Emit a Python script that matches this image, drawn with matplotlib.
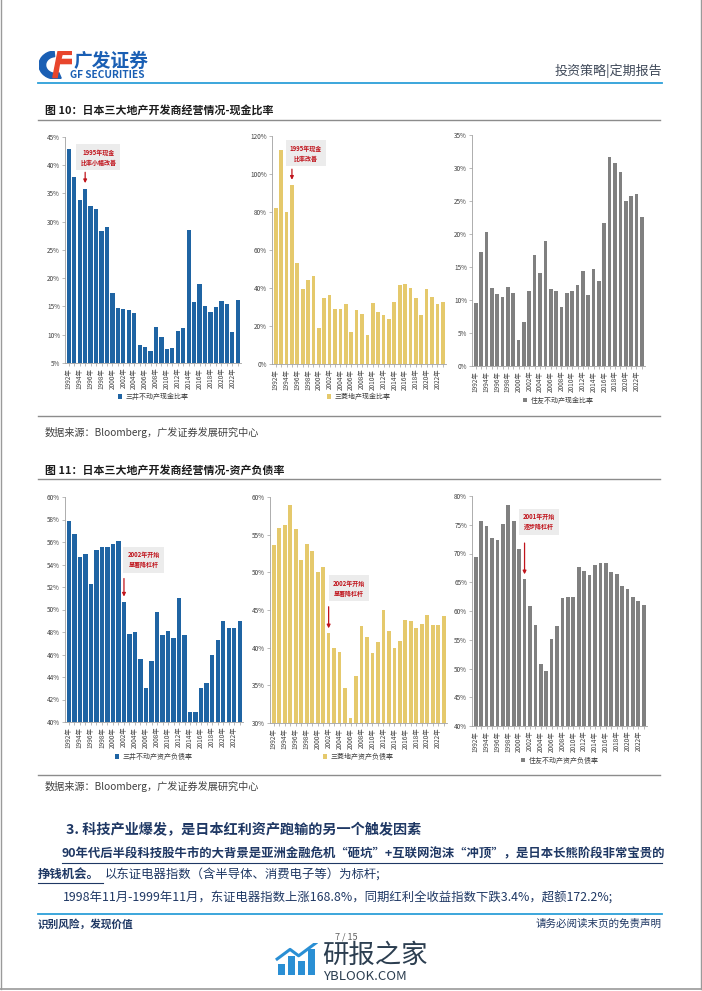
import matplotlib
matplotlib.use("Agg")
import matplotlib.pyplot as plt
from matplotlib.lines import Line2D
from matplotlib.patches import Wedge, Polygon

plt.rcParams['font.family'] = ['Noto Sans CJK SC', 'DejaVu Sans']

W, H = 702, 991

years = list(range(1992, 2024))
year_labels = [f"{y}年" if y % 2 == 0 else "" for y in years]

# 现金比率 (%)
mitsui_cash = [42.9, 37.9, 33.8, 35.7, 32.8, 32.3, 28.3, 29.0, 17.3, 14.8, 14.5, 14.4,
               13.9, 8.1, 7.9, 7.2, 11.3, 9.6, 7.5, 7.7, 10.6, 11.2, 28.5, 15.7,
               19.0, 15.0, 14.1, 14.9, 16.0, 15.4, 10.5, 16.2]
mitsubishi_cash = [81.9, 112.6, 80.2, 94.2, 53.2, 39.3, 44.4, 46.3, 18.9, 34.6, 36.3, 28.9,
                   28.9, 31.6, 17.0, 28.4, 26.1, 15.3, 32.1, 27.4, 25.6, 23.5, 32.5, 41.6,
                   42.1, 39.8, 34.6, 26.0, 39.6, 35.1, 31.8, 32.8]
sumitomo_cash = [9.5, 17.3, 20.3, 11.8, 10.9, 10.4, 11.9, 11.1, 3.9, 6.7, 11.3, 16.8,
                 14.1, 18.9, 11.6, 11.3, 8.9, 11.1, 11.4, 12.3, 14.4, 10.7, 14.7, 12.9,
                 21.6, 31.6, 30.7, 29.4, 25.0, 25.7, 26.0, 22.5]

# 资产负债率 (%)
mitsui_debt = [57.9, 56.7, 54.7, 54.9, 52.3, 55.3, 55.6, 55.6, 55.8, 56.1, 50.7, 47.8,
               48.0, 45.6, 43.0, 45.4, 49.8, 47.7, 48.1, 47.5, 51.0, 47.7, 40.9, 40.9,
               43.0, 43.5, 46.0, 47.3, 49.0, 48.4, 48.4, 49.0]
mitsubishi_debt = [53.6, 55.9, 56.3, 58.9, 55.8, 51.6, 53.7, 52.8, 50.1, 50.7, 41.9, 39.9,
                   39.4, 34.6, 30.7, 36.3, 42.9, 41.4, 39.3, 40.8, 45.0, 42.2, 40.0, 40.9,
                   43.7, 43.5, 42.6, 43.2, 44.3, 43.0, 43.0, 44.2]
sumitomo_debt = [69.4, 75.6, 74.7, 72.7, 72.3, 75.2, 78.5, 75.7, 70.8, 65.5, 60.8, 57.6,
                 50.8, 49.5, 55.1, 57.4, 62.2, 62.5, 62.5, 67.7, 67.0, 66.2, 68.0, 68.4,
                 68.3, 66.8, 66.5, 64.3, 63.9, 62.4, 61.7, 61.0]

BLUE = '#1f64a3'
GOLD = '#e5c96c'
GREY = '#808080'
RED = '#c0141c'
NAVY = '#1f3864'

fig = plt.figure(figsize=(W / 100, H / 100), dpi=100)


def fx(x):
    return x / W


def fy(y):
    return 1 - y / H


def add_ax(l, t, r, b):
    return fig.add_axes([fx(l), fy(b), (r - l) / W, (b - t) / H])


def hline(x0, x1, y, color, lw):
    fig.add_artist(Line2D([fx(x0), fx(x1)], [fy(y), fy(y)], color=color, lw=lw))


def bar_chart(box, values, color, width, ylim, step, legend, legend_off):
    ax = add_ax(*box)
    x = list(range(len(values)))
    ax.bar(x, values, width=width, color=color, label=legend, zorder=2)
    ax.set_xlim(-0.7, len(values) - 0.4)
    ax.set_ylim(*ylim)
    ticks = list(range(ylim[0], ylim[1] + 1, step))
    ax.set_yticks(ticks)
    ax.set_yticklabels([f"{t}%" for t in ticks])
    ax.set_xticks(x)
    ax.set_xticklabels(year_labels, rotation=90)
    for s in ['top', 'right']:
        ax.spines[s].set_visible(False)
    for s in ['left', 'bottom']:
        ax.spines[s].set_color('#a0a0a0')
        ax.spines[s].set_linewidth(0.6)
    ax.tick_params(axis='both', labelsize=4.6, colors='#a0a0a0', labelcolor='#404040',
                   length=2, width=0.5, pad=1.5)
    ax.legend(loc='center', bbox_to_anchor=(0.5, legend_off), frameon=False,
              fontsize=5, handlelength=0.6, handleheight=0.6, handletextpad=0.5,
              labelcolor='#404040')
    return ax


def note(ax, text, bx, by, ax_x, y0, y1):
    ax.text(bx, by, text, ha='center', va='center', fontsize=4.3, color=RED,
            fontweight='bold', linespacing=1.5,
            bbox=dict(boxstyle='square,pad=0.7', fc='#ececec', ec='none'), zorder=5)
    ax.annotate('', xy=(ax_x, y1), xytext=(ax_x, y0),
                arrowprops=dict(arrowstyle='-|>', color=RED, lw=0.9, mutation_scale=5),
                zorder=5)


# ---- page frame ----
fig.add_artist(Line2D([fx(0.5), fx(0.5)], [fy(0), fy(989)], color='#9a9a9a', lw=1))
fig.add_artist(Line2D([fx(700.5), fx(700.5)], [fy(0), fy(989)], color='#9a9a9a', lw=1))
hline(0, 702, 989, '#9a9a9a', 1.2)

# ---- header ----
logo = add_ax(39, 51, 72, 79)
logo.set_xlim(0, 1)
logo.set_ylim(0, 1)
logo.axis('off')
logo.add_patch(Wedge((0.5, 0.5), 0.5, 95, 290, width=0.2, color='#1a5fb4'))
logo.add_patch(Polygon([[0.42, 0.05], [0.55, 0.05], [0.62, 0.55], [0.98, 0.55], [1.0, 0.7],
                        [0.66, 0.7], [0.7, 0.88], [1.0, 0.88], [1.0, 1.0], [0.58, 1.0]],
                       closed=True, color='#e8452c'))
fig.text(fx(74), fy(61), '广发证券', fontsize=13.5, fontweight='bold', color='#1a5fb4',
         va='center', ha='left')
fig.text(fx(70), fy(75.5), 'GF SECURITIES', fontsize=7.3, fontweight='bold', color='#1a5fb4',
         va='center', ha='left')
fig.text(fx(662), fy(71), '投资策略|定期报告', fontsize=9.4, color='#404a5a', va='center', ha='right')
hline(38, 662, 82.5, '#2c9fd9', 1.3)

# ---- figure 10 ----
fig.text(fx(45), fy(110), '图 10：日本三大地产开发商经营情况-现金比率', fontsize=7.9,
         fontweight='bold', color='#1a1a1a', va='center')
hline(38, 660, 119.5, '#8c8c8c', 1.0)

a1 = bar_chart((65, 136.7, 241, 363), mitsui_cash, BLUE, 0.78, (5, 45), 5,
               '三井不动产现金比率', -0.15)
note(a1, '1995年现金\n比率小幅改善', 5.4, 41.4, 3, 39.2, 36.3)
a2 = bar_chart((272, 136, 446, 364), mitsubishi_cash, GOLD, 0.68, (0, 120), 20,
               '三菱地产现金比率', -0.145)
note(a2, '1995年现金\n比率改善', 5.6, 111, 3, 104, 95.5)
a3 = bar_chart((472, 135, 645, 366), sumitomo_cash, GREY, 0.68, (0, 35), 5,
               '住友不动产现金比率', -0.15)

hline(38, 660, 416, '#8c8c8c', 1.0)
fig.text(fx(45), fy(433), '数据来源：Bloomberg，广发证券发展研究中心', fontsize=7.3,
         color='#404040', va='center')

# ---- figure 11 ----
fig.text(fx(45), fy(470), '图 11：日本三大地产开发商经营情况-资产负债率', fontsize=7.9,
         fontweight='bold', color='#1a1a1a', va='center')
hline(38, 660, 479, '#8c8c8c', 1.0)

a4 = bar_chart((65, 497, 243, 722), mitsui_debt, BLUE, 0.78, (40, 60), 2,
               '三井不动产资产负债率', -0.155)
note(a4, '2002年开始\n显著降杠杆', 13.6, 54.4, 10, 53.0, 50.9)
a5 = bar_chart((270, 497, 447, 723), mitsubishi_debt, GOLD, 0.68, (30, 60), 5,
               '三菱地产资产负债率', -0.15)
note(a5, '2002年开始\n显著降杠杆', 13.7, 47.9, 10, 45.8, 42.2)
a6 = bar_chart((472, 496, 647, 726), sumitomo_debt, GREY, 0.68, (40, 80), 5,
               '住友不动产资产负债率', -0.15)
note(a6, '2001年开始\n逐步降杠杆', 11.7, 75.5, 9, 72.3, 65.9)

hline(38, 660, 775, '#8c8c8c', 1.0)
fig.text(fx(45), fy(786), '数据来源：Bloomberg，广发证券发展研究中心', fontsize=7.3,
         color='#404040', va='center')

# ---- body text ----
fig.text(fx(66), fy(830), '3. 科技产业爆发，是日本红利资产跑输的另一个触发因素', fontsize=10.2,
         fontweight='bold', color=NAVY, va='center')
fig.text(fx(62), fy(854), '90年代后半段科技股牛市的大背景是亚洲金融危机“砸坑”+互联网泡沫“冲顶”，是日本长熊阶段非常宝贵的',
         fontsize=8.9, fontweight='bold', color=NAVY, va='center')
hline(62, 662, 863, NAVY, 0.8)
fig.text(fx(38), fy(874), '挣钱机会。', fontsize=8.9, fontweight='bold', color=NAVY, va='center')
hline(38, 103, 883, NAVY, 0.8)
fig.text(fx(105), fy(874), '以东证电器指数（含半导体、消费电子等）为标杆;', fontsize=8.9,
         color=NAVY, va='center')
fig.text(fx(63), fy(898), '1998年11月-1999年11月，东证电器指数上涨168.8%，同期红利全收益指数下跌3.4%，超额172.2%;',
         fontsize=8.9, color=NAVY, va='center')

# ---- footer ----
hline(38, 662, 914, '#2c9fd9', 1.3)
fig.text(fx(38), fy(924), '识别风险，发现价值', fontsize=7.7, fontweight='bold', color=NAVY, va='center')
fig.text(fx(662), fy(924), '请务必阅读末页的免责声明', fontsize=7.6, color=NAVY, va='center', ha='right')
fig.text(fx(346), fy(937), '7 / 15', fontsize=6.5, color='#606060', va='center', ha='center')

# watermark
wm = add_ax(275, 943, 318, 975)
wm.set_xlim(0, 1)
wm.set_ylim(0, 1)
wm.axis('off')
wm.bar([0.15, 0.38, 0.61, 0.84], [0.35, 0.6, 0.45, 0.8], width=0.16, bottom=0.0, color='#2a8fd4')
wm.plot([0.05, 0.35, 0.55, 0.95], [0.5, 0.8, 0.6, 1.0], color='#2a8fd4', lw=2.2)
fig.text(fx(322), fy(955), '研报之家', fontsize=19, color='#2c3e50', va='center', ha='left')
fig.text(fx(323), fy(976), 'YBLOOK.COM', fontsize=9.5, color='#2c3e50', va='center', ha='left')

fig.savefig('out.png', dpi=100)
